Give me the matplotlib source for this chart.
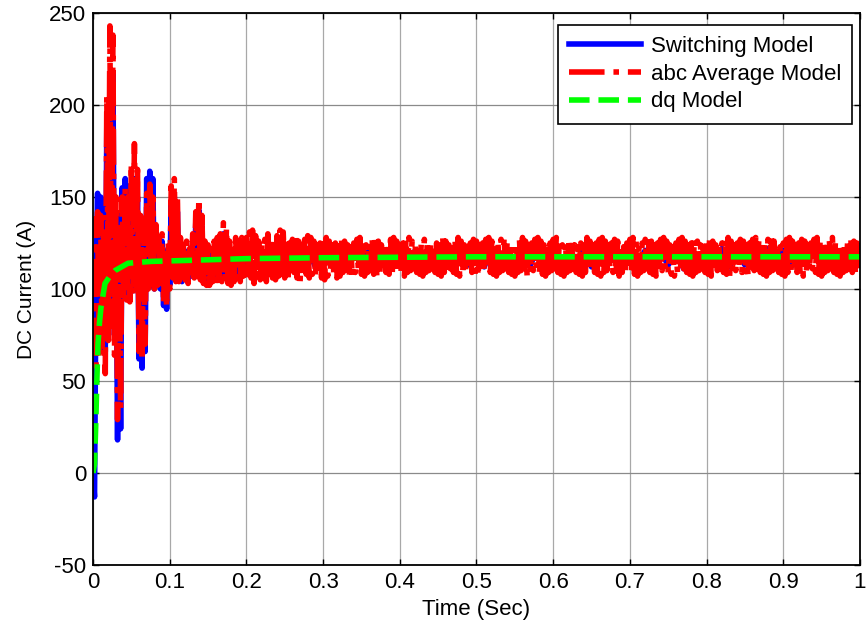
import matplotlib

matplotlib.use("Agg")
import matplotlib.pyplot as plt
import numpy as np

plt.rcParams["font.family"] = ["Liberation Sans", "DejaVu Sans"]
plt.rcParams["axes.unicode_minus"] = False

# sample steps used when reading the traces off the figure
DT_TRANSIENT = 0.002      # 0 .. 0.198 s
DT_ABC_STEADY = 0.002     # 0.2 .. 1.0 s
DT_SW_STEADY = 0.01       # 0.2 .. 1.0 s
T_STEADY = 0.2

# switching model, start-up transient (A)
sw_transient = [
    0, -13, 110, 152, 78, 150, 82, 128, 66, 190,
    80, 210, 88, 218, 75, 140, 18, 128, 24, 155,
    97, 160, 96, 156, 98, 155, 99, 160, 100, 150,
    62, 132, 57, 128, 66, 160, 101, 164, 102, 160,
    100, 130, 103, 124, 100, 126, 91, 118, 89, 122,
    102, 148, 107, 150, 105, 142, 105, 124, 104, 122,
    106, 120, 105, 121, 107, 126, 108, 136, 108, 143,
    107, 134, 105, 124, 104, 120, 104, 118, 106, 121,
    107, 124, 108, 127, 107, 130, 109, 126, 106, 120,
    104, 118, 107, 122, 109, 124, 108, 121, 109, 123,
]

# abc average model, start-up transient (A)
abc_transient = [
    65, 138, 58, 142, 62, 140, 66, 132, 54, 205,
    72, 243, 80, 238, 64, 150, 29, 135, 35, 150,
    96, 155, 94, 150, 93, 168, 97, 179, 98, 165,
    66, 140, 61, 135, 70, 152, 100, 157, 101, 150,
    100, 135, 102, 128, 101, 130, 92, 122, 90, 125,
    100, 156, 106, 160, 104, 150, 104, 128, 103, 124,
    105, 126, 103, 122, 106, 130, 106, 142, 107, 149,
    105, 140, 103, 126, 102, 124, 102, 122, 104, 126,
    103, 128, 105, 130, 104, 136, 106, 133, 103, 126,
    102, 124, 104, 128, 106, 126, 104, 128, 107, 127,
]

# abc average model, steady-state ripple (A)
abc_steady = [
    128, 104, 131, 106, 132, 103, 129, 107, 126, 105, 124, 106, 127, 104, 130, 108, 128, 106, 125, 105,
    129, 107, 132, 105, 131, 106, 128, 104, 125, 107, 127, 109, 129, 106, 126, 104, 124, 107, 127, 108,
    129, 106, 128, 108, 126, 107, 124, 109, 125, 106, 127, 105, 128, 107, 126, 109, 124, 108, 125, 106,
    127, 107, 128, 109, 126, 108, 124, 106, 123, 107, 125, 109, 127, 110, 128, 108, 126, 107, 124, 109,
    125, 110, 127, 108, 128, 107, 126, 109, 124, 111, 123, 109, 125, 108, 127, 107, 128, 109, 126, 110,
    124, 108, 125, 107, 127, 109, 128, 110, 126, 111, 124, 109, 123, 108, 125, 107, 127, 109, 126, 110,
    124, 111, 123, 109, 125, 108, 127, 107, 128, 109, 126, 110, 124, 111, 125, 109, 127, 108, 128, 107,
    126, 109, 124, 110, 123, 111, 125, 109, 127, 108, 126, 107, 124, 109, 125, 110, 127, 111, 128, 109,
    126, 108, 124, 107, 125, 109, 127, 110, 128, 111, 126, 109, 124, 108, 123, 107, 125, 109, 127, 110,
    128, 108, 126, 107, 124, 109, 125, 110, 127, 111, 128, 109, 126, 108, 124, 107, 123, 109, 125, 110,
    127, 111, 128, 109, 126, 108, 124, 107, 125, 109, 127, 110, 126, 111, 124, 109, 123, 108, 125, 107,
    127, 109, 128, 110, 126, 111, 124, 109, 125, 108, 127, 107, 128, 109, 126, 110, 124, 111, 125, 109,
    127, 108, 126, 107, 124, 109, 123, 110, 125, 111, 127, 109, 128, 108, 126, 107, 124, 109, 125, 110,
    127, 111, 128, 109, 126, 108, 124, 107, 125, 109, 127, 110, 128, 111, 126, 109, 124, 108, 123, 107,
    125, 109, 127, 110, 128, 111, 126, 109, 124, 108, 125, 107, 127, 109, 126, 110, 124, 111, 125, 109,
    127, 108, 128, 107, 126, 109, 124, 110, 123, 111, 125, 109, 127, 108, 128, 107, 126, 109, 124, 110,
    125, 111, 127, 109, 126, 108, 124, 107, 125, 109, 127, 110, 128, 111, 126, 109, 124, 108, 125, 107,
    127, 109, 128, 110, 126, 111, 124, 109, 123, 108, 125, 107, 127, 109, 128, 110, 126, 111, 124, 109,
    125, 108, 127, 107, 126, 109, 124, 110, 125, 111, 127, 109, 128, 108, 126, 107, 124, 109, 125, 110,
    127, 111, 128, 109, 126, 108, 124, 107, 123, 109, 125, 110, 127, 111, 128, 109, 126, 108, 125, 110,
    117,
]

# switching model, steady-state ripple (A)
sw_steady = [
    116, 112, 121, 113, 122, 111, 120, 114, 122, 112,
    121, 113, 120, 112, 122, 114, 121, 112, 120, 113,
    122, 111, 121, 113, 120, 114, 122, 112, 121, 113,
    120, 112, 122, 114, 121, 112, 120, 113, 122, 111,
    121, 113, 120, 114, 122, 112, 121, 113, 120, 112,
    122, 114, 121, 112, 120, 113, 122, 111, 121, 113,
    120, 114, 122, 112, 121, 113, 120, 112, 122, 114,
    121, 112, 120, 113, 122, 111, 121, 113, 120, 114,
    117,
]

# dq model (A)
dq_time = [0, 0.002, 0.0035, 0.005, 0.0065, 0.0085, 0.0104, 0.0156, 0.022,
           0.0287, 0.0456, 0.076, 0.12, 0.2, 0.3, 0.5, 0.7, 1.0]
dq_current = [0, 5, 25, 50, 70, 82, 90, 103, 107,
              110, 114, 115, 115.5, 116.5, 117, 117.5, 117.5, 117.5]

x_ticks = [0, 0.1, 0.2, 0.3, 0.4, 0.5, 0.6, 0.7, 0.8, 0.9, 1.0]
x_tick_labels = ["0", "0.1", "0.2", "0.3", "0.4", "0.5", "0.6", "0.7", "0.8", "0.9", "1"]
y_ticks = [-50, 0, 50, 100, 150, 200, 250]


def _trace(transient, steady, dt_steady):
    t1 = np.arange(len(transient)) * DT_TRANSIENT
    t2 = T_STEADY + np.arange(len(steady)) * dt_steady
    return np.concatenate([t1, t2]), np.array(transient + steady, dtype=float)


W, H = 868, 626
fig = plt.figure(figsize=(W / 100, H / 100), dpi=100)
ax = fig.add_axes([93 / W, 1 - 565 / H, 767 / W, 552 / H])

t_sw, i_sw = _trace(sw_transient, sw_steady, DT_SW_STEADY)
t_abc, i_abc = _trace(abc_transient, abc_steady, DT_ABC_STEADY)

lw = 4.0
ax.plot(t_sw, i_sw, color="#0000ff", lw=lw, label="Switching Model")
ax.plot(t_abc, i_abc, color="#ff0000", lw=lw, linestyle="-.",
        label="abc Average Model")
ax.plot(dq_time, dq_current, color="#00ff00", lw=lw, linestyle="--",
        label="dq Model")

ax.set_xlim(0, 1)
ax.set_ylim(-50, 250)
ax.set_xticks(x_ticks)
ax.set_xticklabels(x_tick_labels)
ax.set_yticks(y_ticks)
ax.tick_params(direction="in", top=True, right=True, length=4, width=1,
               labelsize=16, pad=5)
for sp in ax.spines.values():
    sp.set_linewidth(1.3)
ax.xaxis.grid(True, color="#a8a8a8", lw=0.9)
ax.yaxis.grid(True, color="#8a8a8a", lw=0.9)
ax.set_axisbelow(True)

ax.set_xlabel("Time (Sec)", fontsize=16, labelpad=4)
ax.set_ylabel("DC Current (A)", fontsize=15, labelpad=9)

leg = ax.legend(loc="upper right", bbox_to_anchor=(0.9896, 0.9783),
                borderaxespad=0, fontsize=16, fancybox=False, framealpha=1,
                edgecolor="black", handlelength=3.2, handletextpad=0.45,
                labelspacing=0.3, borderpad=0.5)
leg.get_frame().set_linewidth(1.2)

fig.savefig("out.png", dpi=100)
